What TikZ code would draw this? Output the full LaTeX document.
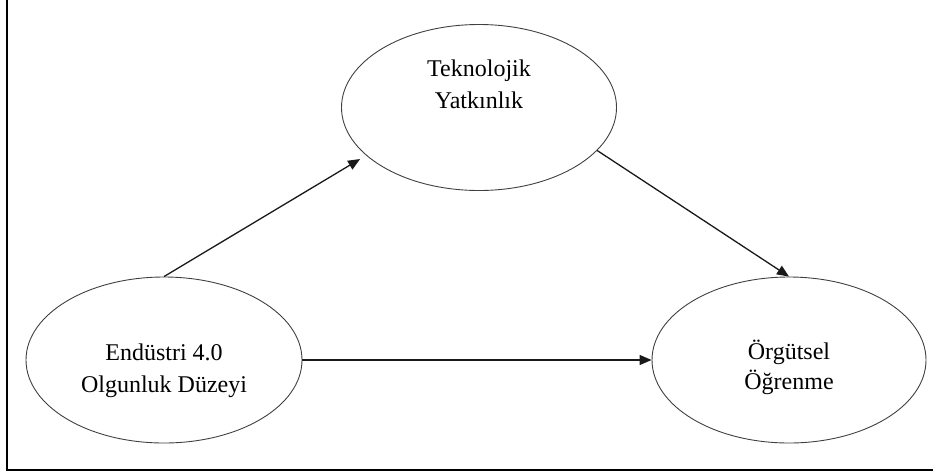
\documentclass[tikz,border=0pt]{standalone}
\usepackage{fontspec}
\setmainfont{Liberation Serif}
\usetikzlibrary{arrows.meta,shapes.geometric}
\begin{document}
\begin{tikzpicture}[x=1pt, y=-1pt,
  construct/.style={ellipse, draw=black!75, line width=0.9pt, inner sep=0pt,
                    minimum width=275pt, minimum height=166pt},
  caption/.style={anchor=base, inner sep=0pt, font=\fontsize{24}{30}\selectfont},
  link/.style={line width=1.3pt, draw=black!90,
               -{Triangle[length=12pt, width=10pt]}}]
  \useasboundingbox (0,0) rectangle (933,472);

  % page frame (left and bottom rules)
  \draw[line width=1.6pt] (7,0) -- (7,470) -- (933,470);

  % constructs
  \node[construct] (tek) at (479,107.5) {};
  \node[construct, minimum width=276pt] (end) at (164,360) {};
  \node[construct, minimum width=274pt] (org) at (789,360) {};

  % construct names
  \node[caption] (tekA) at (479,76.7) {Teknolojik};
  \node[caption] (tekB) at (479,108) {Yatkınlık};
  \node[caption] (endA) at (164,360) {Endüstri 4.0};
  \node[caption] (endB) at (164,392) {Olgunluk Düzeyi};
  \node[caption] (orgA) at (789,359) {Örgütsel};
  \node[caption] (orgB) at (789,389) {Öğrenme};

  % links between constructs
  \draw[link, shorten >=7pt] (end.north) -- (tek.203.6);
  \draw[link] (tek.-20.2) -- (org.north);
  \draw[link] (end.east) -- (org.west);
\end{tikzpicture}
\end{document}
